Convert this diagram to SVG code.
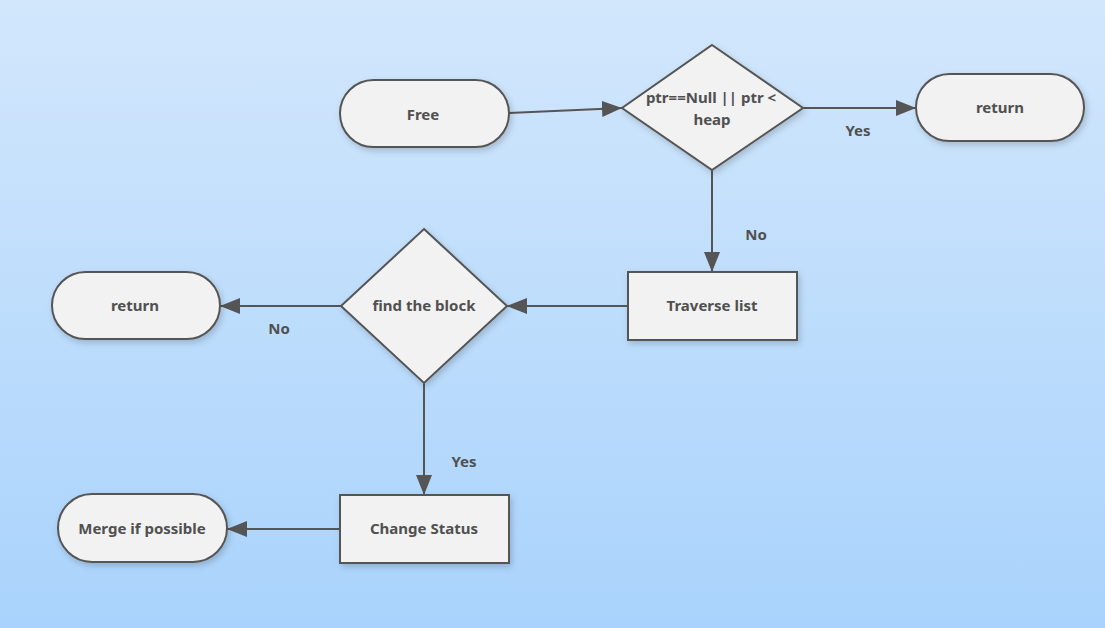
<svg xmlns="http://www.w3.org/2000/svg" width="1105" height="628" viewBox="0 0 1105 628">
<defs>
<linearGradient id="bg" x1="0" y1="0" x2="0" y2="1">
<stop offset="0" stop-color="#d2e7fc"/>
<stop offset="1" stop-color="#a9d3fc"/>
</linearGradient>
<filter id="sh" x="-20%" y="-20%" width="140%" height="150%">
<feDropShadow dx="2" dy="3" stdDeviation="3" flood-color="#000" flood-opacity="0.18"/>
</filter>
<marker id="ah" viewBox="0 0 20 16" refX="20" refY="8" markerWidth="20" markerHeight="16" markerUnits="userSpaceOnUse" orient="auto">
<path d="M0,0 L20,8 L0,16 Z" fill="#555"/>
</marker>
</defs>
<style>
.n{fill:#f2f2f2;stroke:#555;stroke-width:2;filter:url(#sh)}
.t{font-family:"Noto Sans","Open Sans",sans-serif;font-weight:bold;font-size:15px;fill:#505050;text-anchor:middle;dominant-baseline:central}
.e{fill:none;stroke:#555;stroke-width:2;marker-end:url(#ah)}
.l{font-family:"Noto Sans","Open Sans",sans-serif;font-weight:bold;font-size:15px;fill:#505050;text-anchor:middle;dominant-baseline:central}
</style>
<rect width="1105" height="628" fill="url(#bg)"/>
<g id="connectors">
<path class="e" d="M509,113 L622,108"/>
<path class="e" d="M803,108 L916,108"/>
<path class="e" d="M712,170 L712,272"/>
<path class="e" d="M628,306 L507,306"/>
<path class="e" d="M341,306 L220,306"/>
<path class="e" d="M424,383 L424,495"/>
<path class="e" d="M340,529 L227,529"/>
<text class="l" x="858" y="130">Yes</text>
<text class="l" x="756" y="234">No</text>
<text class="l" x="279" y="328">No</text>
<text class="l" x="464" y="461">Yes</text>
</g>
<g id="free">
<rect class="n" x="340" y="80" width="169" height="67" rx="33.5"/>
<text class="t" x="423" y="114">Free</text>
</g>
<g id="check-ptr">
<path class="n" d="M712,45 L803,108 L712,170 L622,108 Z"/>
<text class="t" x="711" y="97">ptr==Null || ptr &lt;</text>
<text class="t" x="712" y="119">heap</text>
</g>
<g id="return-top">
<rect class="n" x="916" y="74" width="168" height="67" rx="33.5"/>
<text class="t" x="1000" y="107">return</text>
</g>
<g id="traverse">
<rect class="n" x="628" y="272" width="169" height="68"/>
<text class="t" x="712" y="305">Traverse list</text>
</g>
<g id="find-block">
<path class="n" d="M424,229 L507,306 L424,383 L341,306 Z"/>
<text class="t" x="424" y="305">find the block</text>
</g>
<g id="return-left">
<rect class="n" x="52" y="272" width="168" height="67" rx="33.5"/>
<text class="t" x="135" y="305">return</text>
</g>
<g id="change-status">
<rect class="n" x="340" y="495" width="169" height="68"/>
<text class="t" x="424" y="528">Change Status</text>
</g>
<g id="merge">
<rect class="n" x="58" y="494" width="169" height="68" rx="34"/>
<text class="t" x="142" y="528">Merge if possible</text>
</g>
</svg>
